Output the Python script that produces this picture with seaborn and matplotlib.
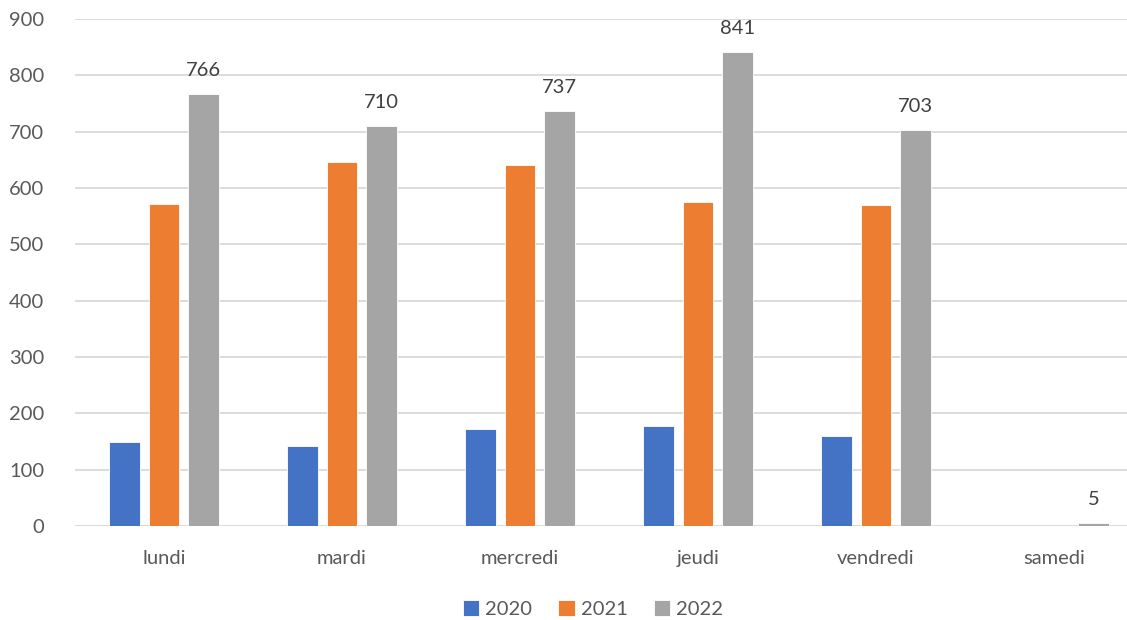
import pandas as pd
import numpy as np
import matplotlib
matplotlib.use('Agg')
import matplotlib.pyplot as plt
import seaborn as sns

# jours et valeurs
jours = ["lundi", "mardi", "mercredi", "jeudi", "vendredi", "samedi"]
annees = ["2020", "2021", "2022"]
v2020 = [149, 142, 173, 178, 159, 0]
v2021 = [571, 646, 640, 575, 569, 0]
v2022 = [766, 710, 737, 841, 703, 5]
couleurs = ["#4472C4", "#ED7D31", "#A5A5A5"]

df = pd.DataFrame({
    "jour": jours * 3,
    "annee": [a for a in annees for _ in jours],
    "valeur": v2020 + v2021 + v2022,
})

sns.set_style("white")
plt.rcParams['font.family'] = ['Lato', 'DejaVu Sans']

fig = plt.figure(figsize=(11.27, 6.2), dpi=100)
ax = fig.add_axes([75 / 1127, 1 - 526 / 620, 1052 / 1127, (526 - 19) / 620])

sns.barplot(data=df, x="jour", y="valeur", hue="annee", palette=couleurs,
            saturation=1, width=0.666, gap=0.22, ax=ax, edgecolor="white",
            linewidth=0.6, legend=True)

ax.set_xlim(-0.5, 5.41)
ax.set_ylim(0, 900)
ax.set_yticks(np.arange(0, 901, 100))
ax.yaxis.grid(True, color="#D9D9D9", linewidth=1.3)
ax.set_axisbelow(True)
for s in ax.spines.values():
    s.set_visible(False)
ax.axhline(0, color="#D9D9D9", linewidth=1.3, zorder=0)

ax.set_xlabel("")
ax.set_ylabel("")
ax.tick_params(axis="both", length=0, labelsize=14.5, labelcolor="#595959")
ax.tick_params(axis="y", pad=22)
ax.tick_params(axis="x", pad=17)

# etiquettes de la serie 2022
ax.bar_label(ax.containers[2], labels=[str(v) for v in v2022], padding=11,
             fontsize=14.5, color="#404040")

handles, labels = ax.get_legend_handles_labels()
ax.legend_.remove()
fig.legend(handles, labels, loc="center", bbox_to_anchor=(593 / 1127, 1 - 609 / 620),
           ncol=3, frameon=False, fontsize=14.5, handlelength=0.8, handleheight=0.8,
           handletextpad=0.3, columnspacing=1.3, labelcolor="#595959")

fig.savefig("out.png", dpi=100)
